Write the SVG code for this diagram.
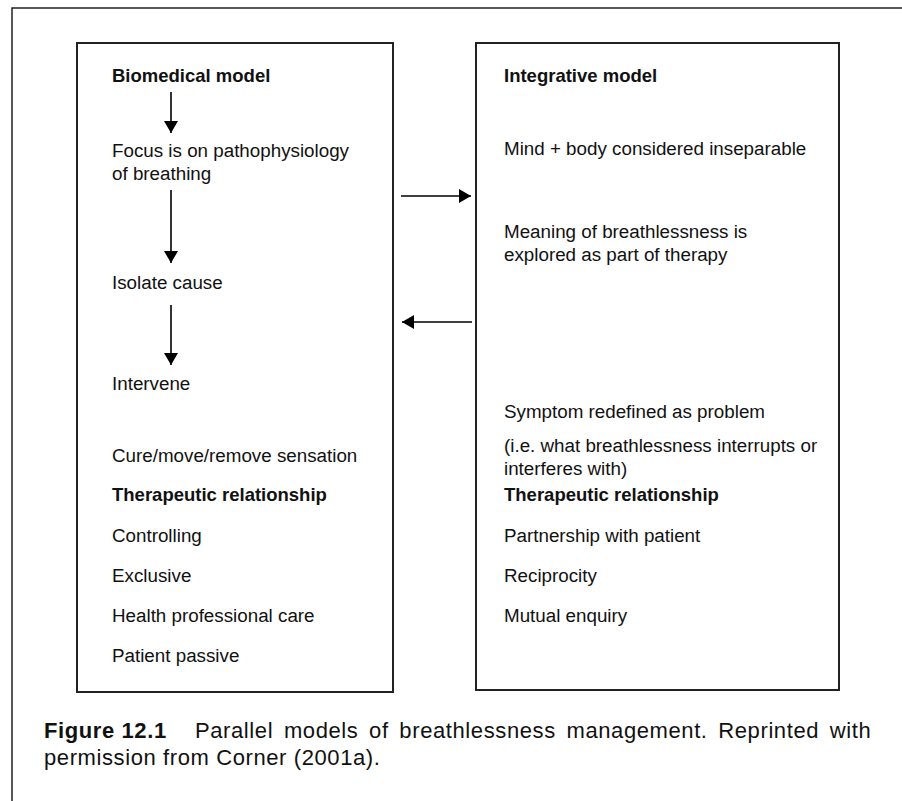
<svg xmlns="http://www.w3.org/2000/svg" width="902" height="801" viewBox="0 0 902 801">
  <defs>
    <marker id="head" viewBox="0 0 12 14" refX="12" refY="7" markerWidth="12" markerHeight="14" markerUnits="userSpaceOnUse" orient="auto">
      <path d="M0,0 L12,7 L0,14 Z" fill="#000"/>
    </marker>
    <style>
      .frame { fill: none; stroke: #222; stroke-width: 1.5; }
      .box { fill: #fff; stroke: #222; stroke-width: 2; }
      .t { font-family: "Liberation Sans", Arial, sans-serif; font-size: 18.8px; fill: #111; }
      .b { font-weight: bold; font-size: 18.5px; }
      .cap { font-family: "Liberation Sans", Arial, sans-serif; font-size: 22px; fill: #111; letter-spacing: 0.6px; }
      .conn line { stroke: #000; stroke-width: 1.6; marker-end: url(#head); }
    </style>
  </defs>
  <rect width="902" height="801" fill="#fff"/>

  <!-- page frame -->
  <path class="frame" d="M12,801 V8 H902"/>

  <!-- biomedical model column -->
  <g id="biomedical">
    <rect class="box" x="77" y="43" width="316" height="649"/>
    <text class="t b" x="112" y="82">Biomedical model</text>
    <text class="t" x="112" y="157">Focus is on pathophysiology</text>
    <text class="t" x="112" y="180">of breathing</text>
    <text class="t" x="112" y="289">Isolate cause</text>
    <text class="t" x="112" y="390">Intervene</text>
    <text class="t" x="112" y="462">Cure/move/remove sensation</text>
    <text class="t b" x="112" y="501">Therapeutic relationship</text>
    <text class="t" x="112" y="542">Controlling</text>
    <text class="t" x="112" y="582">Exclusive</text>
    <text class="t" x="112" y="622">Health professional care</text>
    <text class="t" x="112" y="662">Patient passive</text>
  </g>

  <!-- integrative model column -->
  <g id="integrative">
    <rect class="box" x="476" y="43" width="363" height="647"/>
    <text class="t b" x="504" y="82">Integrative model</text>
    <text class="t" x="504" y="155">Mind + body considered inseparable</text>
    <text class="t" x="504" y="238">Meaning of breathlessness is</text>
    <text class="t" x="504" y="261">explored as part of therapy</text>
    <text class="t" x="504" y="418">Symptom redefined as problem</text>
    <text class="t" x="504" y="452">(i.e. what breathlessness interrupts or</text>
    <text class="t" x="504" y="475">interferes with)</text>
    <text class="t b" x="504" y="501">Therapeutic relationship</text>
    <text class="t" x="504" y="542">Partnership with patient</text>
    <text class="t" x="504" y="582">Reciprocity</text>
    <text class="t" x="504" y="622">Mutual enquiry</text>
  </g>

  <!-- arrows -->
  <g id="connectors" class="conn">
    <line x1="171" y1="92" x2="171" y2="133"/>
    <line x1="171" y1="190" x2="171" y2="263"/>
    <line x1="171" y1="305" x2="171" y2="365"/>
    <line x1="401" y1="196" x2="471" y2="196"/>
    <line x1="472" y1="322" x2="402" y2="322"/>
  </g>

  <!-- caption -->
  <g id="caption">
    <text class="cap" x="44" y="738"><tspan font-weight="bold">Figure 12.1</tspan></text>
    <text class="cap" x="195" y="738" word-spacing="4">Parallel models of breathlessness management. Reprinted with</text>
    <text class="cap" x="44" y="765">permission from Corner (2001a).</text>
  </g>
</svg>
